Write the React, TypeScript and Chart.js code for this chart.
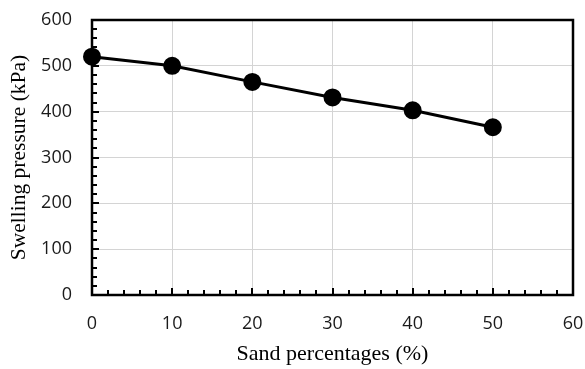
import React, { useEffect, useRef } from "react";
import { Chart, registerables } from "chart.js";

Chart.register(...registerables);

const sandPercent = [0, 10, 20, 30, 40, 50];
const swellingPressure = [520, 500, 465, 431, 403, 366];
const xTitle = "Sand percentages (%)";
const yTitle = "Swelling pressure (kPa)";
const xMin = 0, xMax = 60, xStep = 10, xMinorStep = 2;
const yMin = 0, yMax = 600, yStep = 100, yMinorStep = 20;

const framePlugin = {
  id: "frameAndTicks",
  beforeDatasetsDraw(chart: any) {
    const { ctx, chartArea, scales } = chart;
    const { left, right, top, bottom } = chartArea;
    ctx.save();
    ctx.strokeStyle = "#000";
    ctx.lineWidth = 2;
    for (let v = yMin; v <= yMax; v += yMinorStep) {
      const y = Math.round(scales.y.getPixelForValue(v));
      const len = v % yStep === 0 ? 7 : 5;
      ctx.beginPath();
      ctx.moveTo(left, y);
      ctx.lineTo(left + len, y);
      ctx.stroke();
    }
    for (let v = xMin; v <= xMax; v += xMinorStep) {
      const x = Math.round(scales.x.getPixelForValue(v));
      const len = v % xStep === 0 ? 7 : 5;
      ctx.beginPath();
      ctx.moveTo(x, bottom);
      ctx.lineTo(x, bottom - len);
      ctx.stroke();
    }
    ctx.lineWidth = 2.5;
    ctx.strokeRect(left, top, right - left, bottom - top);
    ctx.restore();
  },
};

export default function App() {
  const ref = useRef<HTMLCanvasElement | null>(null);
  useEffect(() => {
    if (!ref.current) return;
    const chart = new Chart(ref.current, {
      type: "scatter",
      data: {
        datasets: [
          {
            data: sandPercent.map((x, i) => ({ x, y: swellingPressure[i] })),
            showLine: true,
            borderColor: "#000",
            backgroundColor: "#000",
            borderWidth: 3,
            pointRadius: 7.5,
            pointHoverRadius: 7.5,
            clip: false,
          } as any,
        ],
      },
      options: {
        animation: false,
        responsive: false,
        devicePixelRatio: 1,
        layout: { padding: { top: 20, right: 12, left: 0, bottom: 0 } },
        plugins: { legend: { display: false }, tooltip: { enabled: false } },
        scales: {
          x: {
            type: "linear",
            min: xMin,
            max: xMax,
            ticks: {
              stepSize: xStep,
              padding: 18,
              color: "#1a1a1a",
              font: { family: "'Open Sans'", size: 18 },
              maxRotation: 0,
            },
            grid: { color: "#d4d4d4", lineWidth: 1, drawTicks: false },
            border: { display: false },
            title: {
              display: true,
              text: xTitle,
              color: "#000",
              font: { family: "'Liberation Serif'", size: 22 },
              padding: { top: 0, bottom: 2 },
            },
            afterFit(scale: any) {
              scale.height = 74;
              scale.paddingLeft = 0;
              scale.paddingRight = 0;
            },
          },
          y: {
            type: "linear",
            min: yMin,
            max: yMax,
            ticks: {
              stepSize: yStep,
              padding: 20,
              color: "#1a1a1a",
              font: { family: "'Open Sans'", size: 18 },
            },
            grid: { color: "#d4d4d4", lineWidth: 1, drawTicks: false },
            border: { display: false },
            title: {
              display: true,
              text: yTitle,
              color: "#000",
              font: { family: "'Liberation Serif'", size: 21.5 },
              padding: { top: 6, bottom: 0 },
            },
            afterFit(scale: any) {
              scale.width = 92;
              scale.paddingTop = 0;
              scale.paddingBottom = 0;
            },
          },
        },
      },
      plugins: [framePlugin],
    });
    return () => chart.destroy();
  }, []);
  return (
    <div style={{ position: "fixed", left: 0, top: 0, width: 585, height: 369, background: "#fff" }}>
      <canvas ref={ref} width={585} height={369} />
    </div>
  );
}
